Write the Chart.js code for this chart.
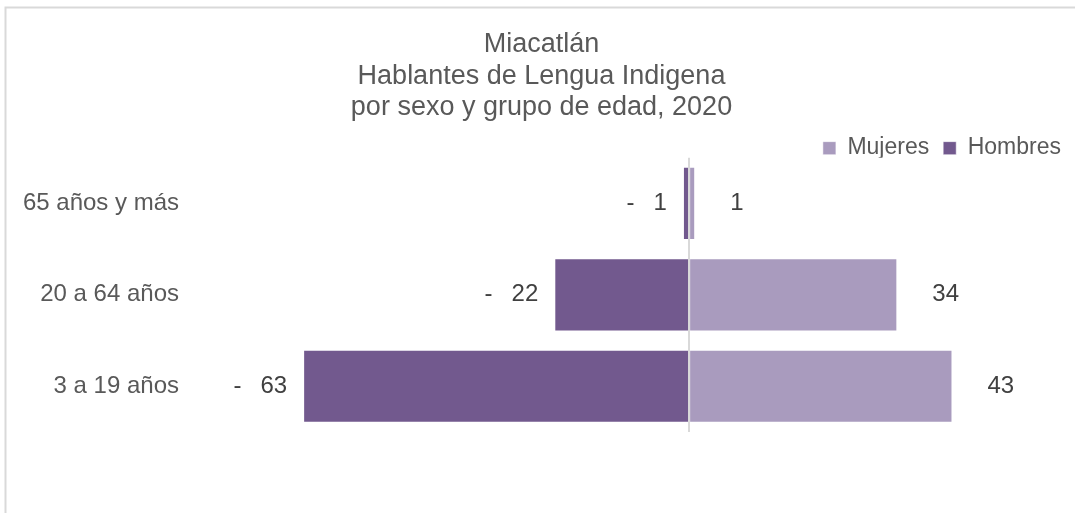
<!DOCTYPE html>
<html>
<head>
<meta charset="utf-8">
<script src="https://cdn.jsdelivr.net/npm/chart.js@4.4.1/dist/chart.umd.min.js"></script>
<style>
  html, body { margin: 0; padding: 0; background: #ffffff; }
  #wrap { position: relative; width: 1075px; height: 513px; }
</style>
</head>
<body>
<div id="wrap"><canvas id="c" width="1075" height="513"></canvas></div>
<script>
// ---- data ----
const categories = ['65 años y más', '20 a 64 años', '3 a 19 años'];
const mujeres = [1, 34, 43];
const hombres = [-1, -22, -63];
const titleLines = ['Miacatlán', 'Hablantes de Lengua Indigena', 'por sexo y grupo de edad, 2020'];
const seriesNames = ['Mujeres', 'Hombres'];
const xMin = -80;
const xMax = 63;

const FONT = '"Liberation Sans", Arial, Helvetica, sans-serif';

const frame = {
  id: 'frame',
  beforeDraw(chart) {
    const ctx = chart.ctx;
    ctx.save();
    ctx.fillStyle = '#ffffff';
    ctx.fillRect(0, 0, chart.width, chart.height);
    ctx.strokeStyle = '#d9d9d9';
    ctx.lineWidth = 2;
    ctx.beginPath();
    ctx.moveTo(5.5, chart.height);
    ctx.lineTo(5.5, 7.5);
    ctx.lineTo(chart.width, 7.5);
    ctx.stroke();
    ctx.restore();
  }
};

const valueLabels = {
  id: 'valueLabels',
  afterDatasetsDraw(chart) {
    const ctx = chart.ctx;
    ctx.save();
    ctx.font = '24px ' + FONT;
    ctx.fillStyle = '#404040';
    ctx.textBaseline = 'middle';
    chart.data.datasets.forEach((ds, di) => {
      const meta = chart.getDatasetMeta(di);
      meta.data.forEach((bar, i) => {
        const v = ds.data[i];
        const txt = String(Math.abs(v));
        if (v < 0) {
          ctx.textAlign = 'right';
          const nx = bar.x - 16;
          ctx.fillText(txt, nx, bar.y);
          const w = ctx.measureText(txt).width;
          ctx.fillText('-', nx - w - 19, bar.y);
        } else {
          ctx.textAlign = 'left';
          ctx.fillText(txt, bar.x + 35, bar.y);
        }
      });
    });
    ctx.restore();
  }
};

new Chart(document.getElementById('c'), {
  type: 'bar',
  data: {
    labels: categories,
    datasets: [
      { label: seriesNames[0], data: mujeres, backgroundColor: '#a99bbe', borderColor: 'rgba(255,255,255,0.5)', borderWidth: 1 },
      { label: seriesNames[1], data: hombres, backgroundColor: '#72598e', borderColor: 'rgba(255,255,255,0.5)', borderWidth: 1 }
    ]
  },
  options: {
    indexAxis: 'y',
    responsive: false,
    animation: false,
    events: [],
    layout: { padding: { top: 29.5, left: 8, right: 0, bottom: 81 } },
    datasets: { bar: { categoryPercentage: 0.8, barPercentage: 1.0 } },
    scales: {
      x: {
        stacked: true,
        min: xMin,
        max: xMax,
        z: 1,
        ticks: { display: false, stepSize: 20 },
        border: { display: false },
        grid: {
          drawTicks: false,
          lineWidth: 2,
          color: (c) => (c.tick && c.tick.value === 0) ? '#d9d9d9' : 'rgba(0,0,0,0)'
        }
      },
      y: {
        stacked: true,
        grid: { display: false, drawTicks: false },
        border: { display: false },
        ticks: { color: '#595959', font: { family: FONT, size: 24 }, padding: 20 },
        afterFit(scale) { scale.width = 191; }
      }
    },
    plugins: {
      tooltip: { enabled: false },
      title: {
        display: true,
        text: titleLines,
        color: '#595959',
        font: { family: FONT, size: 27, weight: 'normal', lineHeight: 1.15 },
        padding: { top: 0, bottom: 0 }
      },
      legend: {
        display: true,
        position: 'top',
        align: 'end',
        maxHeight: 35,
        labels: {
          color: '#595959',
          font: { family: FONT, size: 23 },
          boxWidth: 13,
          boxHeight: 13,
          padding: 14
        }
      }
    }
  },
  plugins: [frame, valueLabels]
});
</script>
</body>
</html>
